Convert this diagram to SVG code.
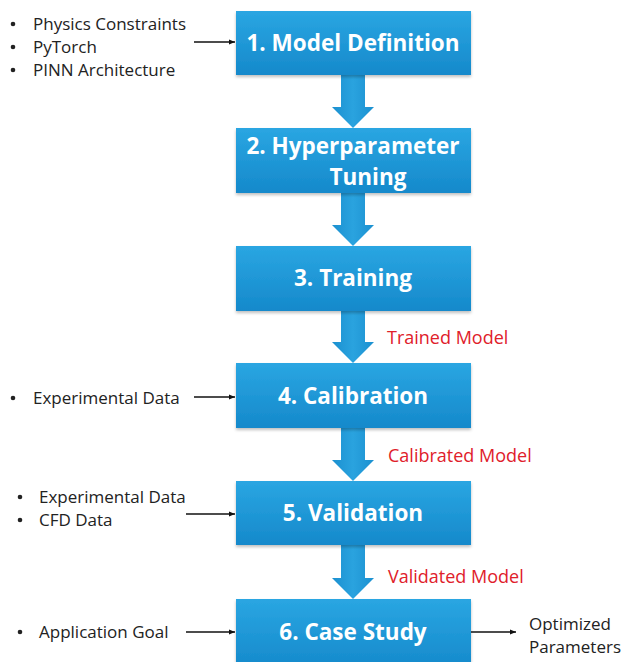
<svg xmlns="http://www.w3.org/2000/svg" width="621" height="662" viewBox="0 0 621 662">
<defs>
<linearGradient id="bg" x1="0" y1="0" x2="0" y2="1">
<stop offset="0" stop-color="#2aa6e2"/>
<stop offset="1" stop-color="#1589cb"/>
</linearGradient>
<linearGradient id="ag" x1="0" y1="0" x2="1" y2="0">
<stop offset="0" stop-color="#1b90d0"/>
<stop offset="0.5" stop-color="#2aa3df"/>
<stop offset="1" stop-color="#1b90d0"/>
</linearGradient>
<filter id="sh" x="-10%" y="-10%" width="120%" height="130%">
<feDropShadow dx="0" dy="2" stdDeviation="1.5" flood-color="#000" flood-opacity="0.25"/>
</filter>
<marker id="ah" markerWidth="8" markerHeight="8" refX="7" refY="4" orient="auto" markerUnits="userSpaceOnUse">
<path d="M1,1.5 L7,4 L1,6.5 Z" fill="#111"/>
</marker>
<style>
.box{fill:url(#bg);filter:url(#sh)}
.bt{font-family:"Open Sans","Liberation Sans",sans-serif;font-weight:bold;font-size:22.5px;fill:#fff;text-anchor:middle}
.lt{font-family:"Open Sans","Liberation Sans",sans-serif;font-size:17px;fill:#222}
.rt{font-family:"Open Sans","Liberation Sans",sans-serif;font-size:18px;fill:#e0202a}
.ln{stroke:#111;stroke-width:1.3;fill:none;marker-end:url(#ah)}
.ba{fill:url(#ag)}
.dot{fill:#222}
</style>
</defs>
<rect width="621" height="662" fill="#fff"/>
<g id="connectors">
<path class="ba" d="M341,75 H365 V107 H374 L353,128 L332,107 H341 Z"/>
<path class="ba" d="M341,193 H365 V225 H374 L353,246 L332,225 H341 Z"/>
<path class="ba" d="M341,311 H365 V342 H374 L353,363 L332,342 H341 Z"/>
<path class="ba" d="M341,428 H365 V460 H374 L353,481 L332,460 H341 Z"/>
<path class="ba" d="M341,545 H365 V578 H374 L353,599 L332,578 H341 Z"/>
<line class="ln" x1="194" y1="42" x2="235" y2="42"/>
<line class="ln" x1="194" y1="397" x2="235" y2="397"/>
<line class="ln" x1="186" y1="514" x2="235" y2="514"/>
<line class="ln" x1="186" y1="632" x2="235" y2="632"/>
<line class="ln" x1="471" y1="632" x2="516" y2="632"/>
<text class="rt" x="387" y="344">Trained Model</text>
<text class="rt" x="388" y="462">Calibrated Model</text>
<text class="rt" x="388" y="583">Validated Model</text>
</g>
<g id="n1">
<rect class="box" x="236" y="11" width="235" height="64"/>
<text class="bt" x="353" y="51">1. Model Definition</text>
</g>
<g id="n2">
<rect class="box" x="236" y="128" width="235" height="65"/>
<text class="bt" x="353" y="154">2. Hyperparameter</text>
<text class="bt" x="368" y="185">Tuning</text>
</g>
<g id="n3">
<rect class="box" x="236" y="246" width="235" height="65"/>
<text class="bt" x="353" y="286">3. Training</text>
</g>
<g id="n4">
<rect class="box" x="236" y="363" width="235" height="65"/>
<text class="bt" x="353" y="404">4. Calibration</text>
</g>
<g id="n5">
<rect class="box" x="236" y="481" width="235" height="64"/>
<text class="bt" x="353" y="521">5. Validation</text>
</g>
<g id="n6">
<rect class="box" x="236" y="599" width="235" height="70"/>
<text class="bt" x="353" y="640">6. Case Study</text>
</g>
<g id="in1">
<circle class="dot" cx="13" cy="24" r="2.3"/><text class="lt" x="33" y="30">Physics Constraints</text>
<circle class="dot" cx="13" cy="47" r="2.3"/><text class="lt" x="33" y="53">PyTorch</text>
<circle class="dot" cx="13" cy="70" r="2.3"/><text class="lt" x="33" y="76">PINN Architecture</text>
</g>
<g id="in4">
<circle class="dot" cx="13" cy="398" r="2.3"/><text class="lt" x="33" y="404">Experimental Data</text>
</g>
<g id="in5">
<circle class="dot" cx="20" cy="497" r="2.3"/><text class="lt" x="39" y="503">Experimental Data</text>
<circle class="dot" cx="20" cy="520" r="2.3"/><text class="lt" x="39" y="526">CFD Data</text>
</g>
<g id="in6">
<circle class="dot" cx="20" cy="632" r="2.3"/><text class="lt" x="39" y="638">Application Goal</text>
</g>
<g id="out6">
<text class="lt" x="529" y="630">Optimized</text>
<text class="lt" x="529" y="653">Parameters</text>
</g>
</svg>
